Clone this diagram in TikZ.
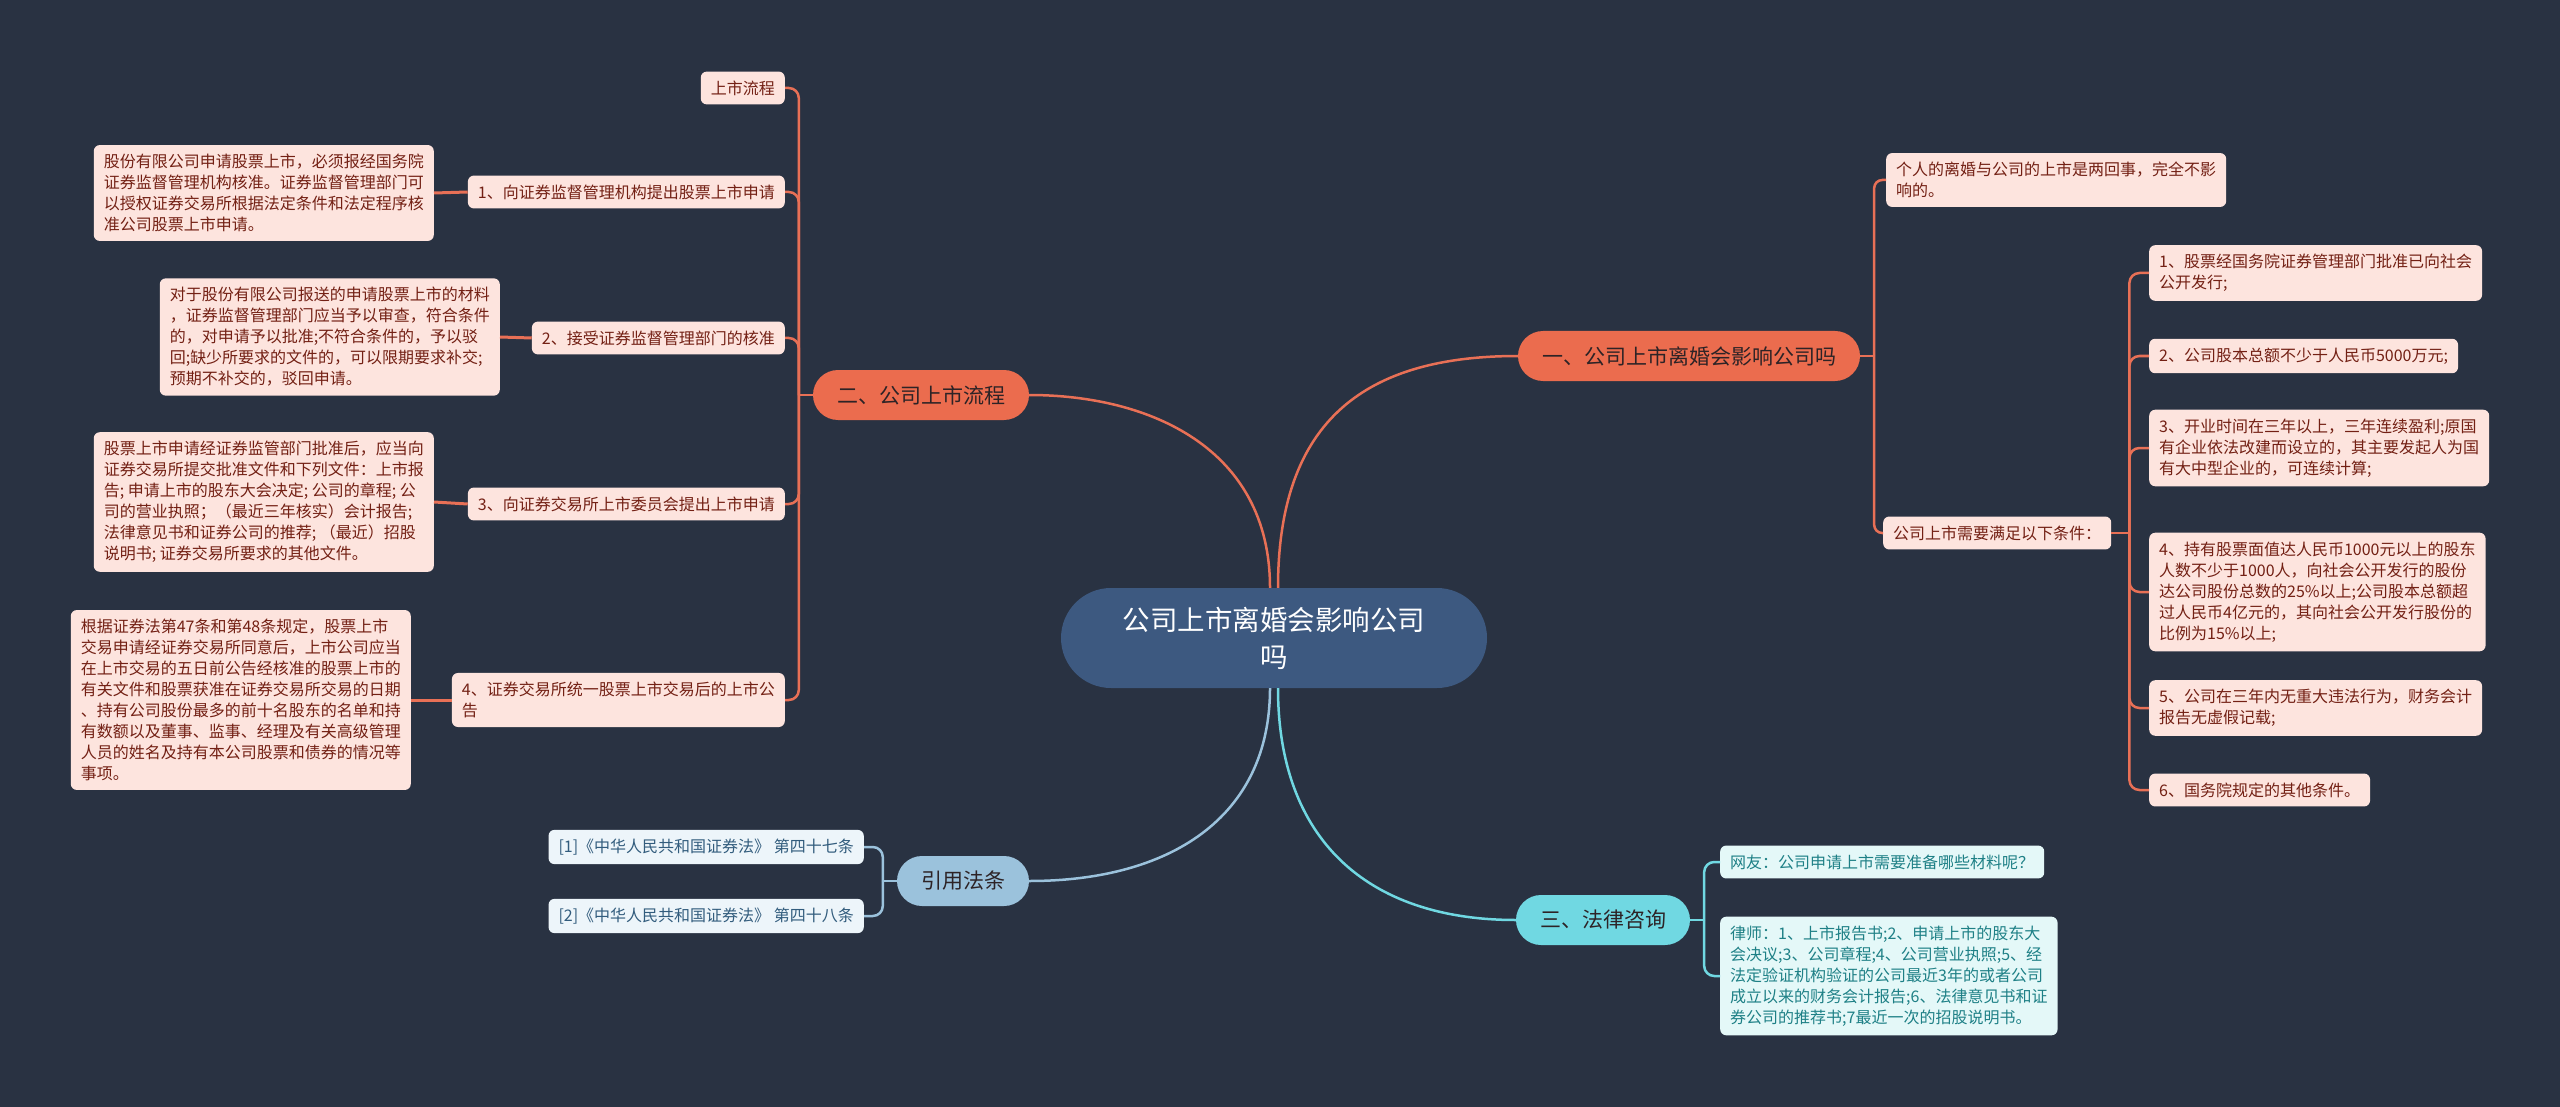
\documentclass[tikz,border=0pt]{standalone}
\usepackage{fontspec}
\newfontfamily\cjk{Noto Sans CJK SC}
\usepackage{tikz}
\usetikzlibrary{calc}

\definecolor{bgcol}{RGB}{41,50,66}
\definecolor{rootcol}{RGB}{61,89,128}
\definecolor{orgcol}{RGB}{235,108,78}
\definecolor{orgline}{RGB}{232,112,86}
\definecolor{peach}{RGB}{253,228,222}
\definecolor{peachtxt}{RGB}{115,32,20}
\definecolor{bluecol}{RGB}{155,194,220}
\definecolor{blueleaf}{RGB}{237,245,250}
\definecolor{bluetxt}{RGB}{50,92,125}
\definecolor{cyancol}{RGB}{112,216,226}
\definecolor{cyanleaf}{RGB}{228,248,248}
\definecolor{cyantxt}{RGB}{30,128,134}
\definecolor{darktxt}{RGB}{45,35,38}

\begin{document}
\begin{tikzpicture}[x=1pt, y=-1pt,
  leaf/.style={rounded corners=6, inner xsep=10, inner ysep=9, align=left,
    font=\cjk\fontsize{16}{21}\selectfont},
  oleaf/.style={leaf, fill=peach, text=peachtxt},
  bleaf/.style={leaf, fill=blueleaf, text=bluetxt},
  cleaf/.style={leaf, fill=cyanleaf, text=cyantxt},
  branch/.style={rounded corners=25, minimum height=50, inner xsep=24,
    font=\cjk\fontsize{21}{25}\selectfont, text=darktxt},
  oline/.style={draw=orgline, line width=2.5},
  bline/.style={draw=bluecol, line width=2.5},
  cline/.style={draw=cyancol, line width=2.5}]
  \fill[bgcol] (0,0) rectangle (2560,1107);
  \useasboundingbox (0,0) rectangle (2560,1107);

  % root
  \node[fill=rootcol, text=white, rounded corners=50, minimum width=426,
    minimum height=100, align=center, font=\cjk\fontsize{27.5}{37}\selectfont]
    (root) at (1274,638) {公司上市离婚会影响公司\\吗};

  % branches
  \node[branch, fill=orgcol] (b1) at (1689,356) {一、公司上市离婚会影响公司吗};
  \node[branch, fill=orgcol] (b2) at (921,395) {二、公司上市流程};
  \node[branch, fill=bluecol] (b3) at (963,881) {引用法条};
  \node[branch, fill=cyancol] (b4) at (1603,920) {三、法律咨询};

  % left: listing steps
  \node[oleaf, anchor=east] (l0) at (785,88) {上市流程};
  \node[oleaf, anchor=east] (l1) at (785,192) {1、向证券监督管理机构提出股票上市申请};
  \node[oleaf, anchor=east] (l2) at (785,338) {2、接受证券监督管理部门的核准};
  \node[oleaf, anchor=east] (l3) at (785,504) {3、向证券交易所上市委员会提出上市申请};
  \node[oleaf, anchor=east] (l4) at (785,700) {4、证券交易所统一股票上市交易后的上市公\\告};

  \node[oleaf, anchor=east] (d1) at (434,193) {股份有限公司申请股票上市，必须报经国务院\\证券监督管理机构核准。证券监督管理部门可\\以授权证券交易所根据法定条件和法定程序核\\准公司股票上市申请。};
  \node[oleaf, anchor=east] (d2) at (500,337) {对于股份有限公司报送的申请股票上市的材料\\，证券监督管理部门应当予以审查，符合条件\\的，对申请予以批准;不符合条件的，予以驳\\回;缺少所要求的文件的，可以限期要求补交;\\预期不补交的，驳回申请。};
  \node[oleaf, anchor=east] (d3) at (434,502) {股票上市申请经证券监管部门批准后，应当向\\证券交易所提交批准文件和下列文件：上市报\\告; 申请上市的股东大会决定; 公司的章程; 公\\司的营业执照；（最近三年核实）会计报告;\\法律意见书和证券公司的推荐; （最近）招股\\说明书; 证券交易所要求的其他文件。};
  \node[oleaf, anchor=east] (d4) at (411,700) {根据证券法第47条和第48条规定，股票上市\\交易申请经证券交易所同意后，上市公司应当\\在上市交易的五日前公告经核准的股票上市的\\有关文件和股票获准在证券交易所交易的日期\\、持有公司股份最多的前十名股东的名单和持\\有数额以及董事、监事、经理及有关高级管理\\人员的姓名及持有本公司股票和债券的情况等\\事项。};

  % left: cited articles
  \node[bleaf, anchor=east] (f1) at (864,847) {[1]《中华人民共和国证券法》 第四十七条};
  \node[bleaf, anchor=east] (f2) at (864,916) {[2]《中华人民共和国证券法》 第四十八条};

  % right: divorce and conditions
  \node[oleaf, anchor=west] (r0) at (1886,180) {个人的离婚与公司的上市是两回事，完全不影\\响的。};
  \node[oleaf, anchor=west] (r1) at (1883,533) {公司上市需要满足以下条件：};

  \node[oleaf, anchor=west] (c1) at (2149,273) {1、股票经国务院证券管理部门批准已向社会\\公开发行;};
  \node[oleaf, anchor=west] (c2) at (2149,356) {2、公司股本总额不少于人民币5000万元;};
  \node[oleaf, anchor=west] (c3) at (2149,448) {3、开业时间在三年以上，三年连续盈利;原国\\有企业依法改建而设立的，其主要发起人为国\\有大中型企业的，可连续计算;};
  \node[oleaf, anchor=west] (c4) at (2149,592) {4、持有股票面值达人民币1000元以上的股东\\人数不少于1000人，向社会公开发行的股份\\达公司股份总数的25\%以上;公司股本总额超\\过人民币4亿元的，其向社会公开发行股份的\\比例为15\%以上;};
  \node[oleaf, anchor=west] (c5) at (2149,708) {5、公司在三年内无重大违法行为，财务会计\\报告无虚假记载;};
  \node[oleaf, anchor=west] (c6) at (2149,790) {6、国务院规定的其他条件。};

  % right: consultation
  \node[cleaf, anchor=west] (q1) at (1720,862) {网友：公司申请上市需要准备哪些材料呢？};
  \node[cleaf, anchor=west] (q2) at (1720,976) {律师：1、上市报告书;2、申请上市的股东大\\会决议;3、公司章程;4、公司营业执照;5、经\\法定验证机构验证的公司最近3年的或者公司\\成立以来的财务会计报告;6、法律意见书和证\\券公司的推荐书;7最近一次的招股说明书。};

  % root to branches
  \coordinate (rt1) at ($(root.north)+(4,0)$);
  \coordinate (rt2) at ($(root.north)+(-4,0)$);
  \coordinate (rb3) at ($(root.south)+(-4,0)$);
  \coordinate (rb4) at ($(root.south)+(4,0)$);
  \draw[oline] (rt1) .. controls ($(rt1)+(0,-170)$) and ($(b1.west)+(-150,0)$) .. (b1.west);
  \draw[oline] (rt2) .. controls ($(rt2)+(0,-140)$) and ($(b2.east)+(120,0)$) .. (b2.east);
  \draw[bline] (rb3) .. controls ($(rb3)+(0,130)$) and ($(b3.east)+(140,0)$) .. (b3.east);
  \draw[cline] (rb4) .. controls ($(rb4)+(0,150)$) and ($(b4.west)+(-150,0)$) .. (b4.west);

  % branch spines
  \draw[oline] (b2.west) -- ++(-14,0) coordinate (s2);
  \foreach \n in {l0,l1,l2,l3,l4}
    \draw[oline, rounded corners=10] (s2) |- (\n.east);
  \foreach \n in {1,2,3,4}
    \draw[oline, line width=3] (l\n.west) -- (d\n.east);

  \draw[oline] (b1.east) -- ++(14,0) coordinate (s1);
  \foreach \n in {r0,r1}
    \draw[oline, rounded corners=8] (s1) |- (\n.west);
  \draw[oline] (r1.east) -- ++(18,0) coordinate (sr);
  \foreach \n in {c1,c2,c3,c4,c5,c6}
    \draw[oline, rounded corners=10] (sr) |- (\n.west);

  \draw[bline] (b3.west) -- ++(-14,0) coordinate (s3);
  \foreach \n in {f1,f2}
    \draw[bline, rounded corners=10] (s3) |- (\n.east);

  \draw[cline] (b4.east) -- ++(14,0) coordinate (s4);
  \foreach \n in {q1,q2}
    \draw[cline, rounded corners=10] (s4) |- (\n.west);
\end{tikzpicture}
\end{document}
